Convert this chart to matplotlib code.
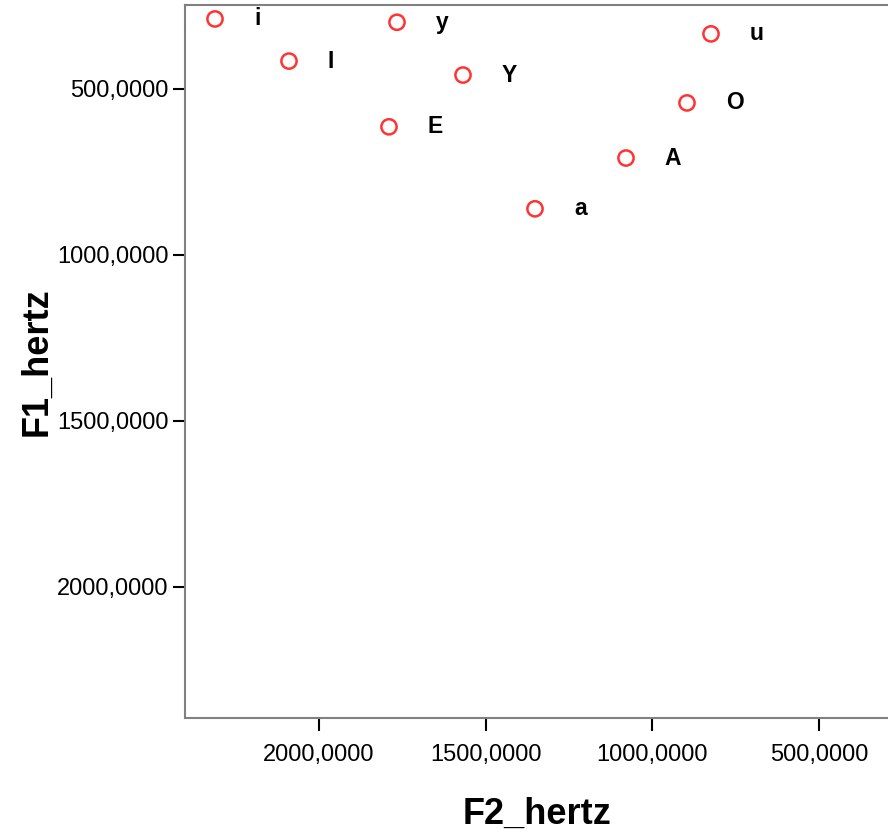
import matplotlib.pyplot as plt
from matplotlib.ticker import FuncFormatter

plt.rcParams['font.family'] = ['Liberation Sans', 'DejaVu Sans']

vowels = ['i', 'I', 'y', 'Y', 'E', 'a', 'A', 'O', 'u']
f2 = [2312, 2090, 1766, 1568, 1790, 1352, 1079, 896, 824]
f1 = [289, 416, 299, 458, 614, 861, 708, 542, 334]

fig = plt.figure(figsize=(8.88, 8.34), dpi=100)
ax = fig.add_axes([185 / 888, 116 / 834, 703 / 888, 713 / 834])

ax.scatter(f2, f1, s=120, facecolors='none', edgecolors='#ff3333', linewidths=1.8, zorder=3)
for v, x, y in zip(vowels, f2, f1):
    ax.annotate(v, (x, y), xytext=(28, 0), textcoords='offset points',
                ha='left', va='center', fontsize=16.5, fontweight='bold')

ax.set_xlim(2402, 293)
ax.set_ylim(2395, 247)
ax.set_xticks([2000, 1500, 1000, 500])
ax.set_yticks([500, 1000, 1500, 2000])
fmt = FuncFormatter(lambda v, p: f'{v:.4f}'.replace('.', ','))
ax.xaxis.set_major_formatter(fmt)
ax.yaxis.set_major_formatter(fmt)
ax.tick_params(direction='out', length=9, width=1.5, labelsize=17)
ax.tick_params(axis='x', pad=10)
ax.tick_params(axis='y', pad=3)

for s in ['left', 'bottom', 'top']:
    ax.spines[s].set_color('#808080')
    ax.spines[s].set_linewidth(1.5)
ax.spines['right'].set_visible(False)

ax.set_xlabel('F2_hertz', fontsize=26, fontweight='bold', labelpad=22)
ax.set_ylabel('F1_hertz', fontsize=26, fontweight='bold', labelpad=2)

fig.savefig('out.png', dpi=100)
